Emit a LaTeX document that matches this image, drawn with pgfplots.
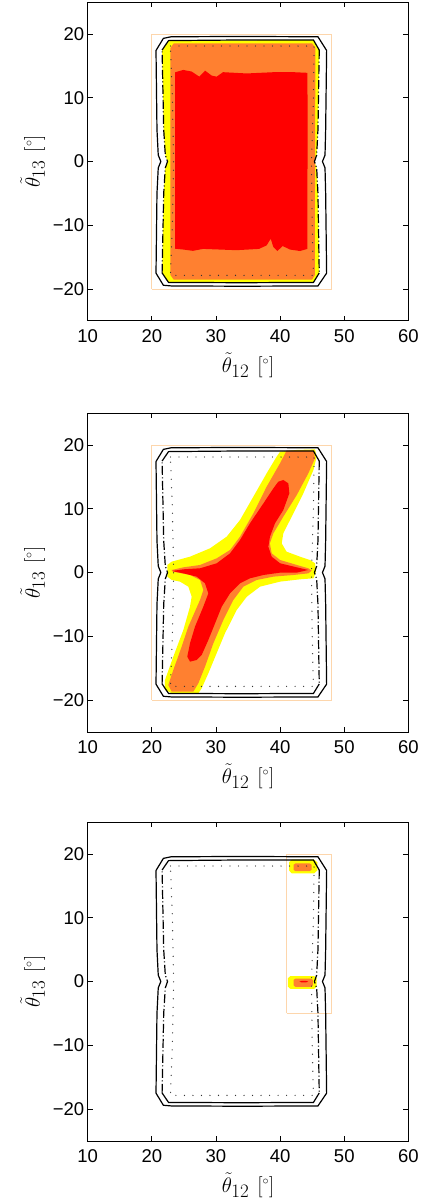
\RequirePackage{fix-cm}
\documentclass[border=0pt]{standalone}
\usepackage{fontspec}
\setmainfont{Liberation Sans}
\usepackage{pgfplots}
\pgfplotsset{compat=1.18}
\definecolor{cyel}{RGB}{255,255,0}
\definecolor{corg}{RGB}{255,128,48}
\definecolor{cred}{RGB}{255,0,0}
\definecolor{cpeach}{RGB}{253,214,172}
\newcommand{\thlab}[1]{$\tilde{\theta}_{\mbox{\fontsize{19}{19}\selectfont$#1$}}\hspace{8pt}[^{\mbox{\fontsize{12}{12}\selectfont$\circ$}}]$}
\pgfplotsset{
  panel/.style={
    anchor=north west, width=320.7pt, height=319pt, scale only axis,
    xmin=10, xmax=60, ymin=-25, ymax=25,
    xtick={10,20,30,40,50,60}, xticklabels={10,20,30,40,50,60},
    ytick={-20,-10,0,10,20}, yticklabels={−20,−10,0,10,20},
    tick align=inside, major tick length=5pt,
    every tick/.style={black, line width=0.8pt},
    axis line style={line width=1pt},
    tick label style={font=\fontsize{18.5}{19}\selectfont},
    xticklabel style={yshift=-4.8pt},
    xlabel={\thlab{12}},
    ylabel={\thlab{13}},
    label style={font=\fontsize{21}{24}\selectfont},
    xlabel style={at={(axis description cs:0.5,-0.16)}, anchor=base},
    ylabel style={at={(axis description cs:-0.1495,0.5)}, anchor=base},
    clip=true,
  },
  outerline/.style={black, line width=1.2pt},
  innerdd/.style={black, line width=1.2pt, dash pattern=on 9pt off 2.5pt on 1pt off 2.5pt},
  dotl/.style={black!80, line width=1.3pt, dash pattern=on 0.01pt off 8.5pt, line cap=round},
}
\newcommand{\contourlines}{%
  \addplot[outerline] coordinates {(20.65,17.4) (21.8,19.3) (23,19.55) (34,19.6) (45.9,19.55) (47.25,17.4) (47.1,5) (47.0,1.0) (46.6,0) (47.0,-1.0) (47.1,-5) (47.25,-17.5) (45.9,-19.5) (34,-19.55) (23,-19.5) (21.8,-19.4) (20.65,-17.5) (20.8,-5) (21.0,-1.0) (21.4,0) (21.0,1.0) (20.8,5) (20.65,17.4)};
  \addplot[outerline] coordinates {(21.6,17.47) (22.6,18.95) (34,19.05) (45.2,19.04) (46.1,17.47)};
  \addplot[innerdd] coordinates {(46.1,17.47) (45.9,5) (45.7,1) (45.35,0) (45.7,-1) (45.9,-5) (46.1,-17.47)};
  \addplot[outerline] coordinates {(46.1,-17.47) (45.2,-18.95) (34,-19.0) (22.6,-18.95) (21.6,-17.47)};
  \addplot[innerdd] coordinates {(21.6,-17.47) (21.85,-5) (22.1,-1) (22.45,0) (22.1,1) (21.85,5) (21.6,17.47)};
  \addplot[dotl] coordinates {(22.9,18.1) (34,18.1) (45.3,18.1) (45.2,10) (44.9,0) (45.0,-10) (45.2,-17.85) (34,-17.85) (22.9,-17.85) (23.2,-10) (23.4,0) (23.2,10) (22.9,18.1)};
}
\begin{document}
\begin{tikzpicture}
\useasboundingbox (0,0) rectangle (429pt,-1200pt);
% ---------------- Panel 1
\begin{axis}[panel, at={(87.7pt,-2pt)}]
\addplot[draw=cpeach, line width=0.8pt] coordinates {(20,-20) (48,-20) (48,20) (20,20) (20,-20)};
\addplot[fill=cyel, draw=none] coordinates {(21.6,17.47) (22.6,18.95) (45.2,19.04) (46.1,17.47) (45.9,5) (45.7,1) (45.35,0) (45.7,-1) (45.9,-5) (46.1,-17.47) (45.2,-18.95) (22.6,-18.95) (21.6,-17.47) (21.85,-5) (22.1,-1) (22.45,0) (22.1,1) (21.85,5)};
\addplot[fill=corg, draw=none] coordinates {(22.9,17.8) (23.4,18.5) (45,18.5) (45.5,17.8) (45.4,-17.8) (45,-18.5) (23.4,-18.5) (22.9,-17.8)};
\addplot[fill=cred, draw=none] coordinates {(23.62,13.98) (24.9,14.35) (26.2,14.1) (27.41,13.3) (28.3,14.24) (29.33,13.46) (30.1,13.3) (31.1,14.0) (34.8,13.8) (39,14.0) (42.1,14.0) (44.25,13.9) (44.3,5) (44.25,-5) (44.25,-13.7) (43.1,-14.03) (41.55,-13.8) (40.4,-13.25) (39.57,-14.03) (38.95,-13.4) (38.53,-12.1) (37.9,-13.15) (36.7,-13.7) (33.2,-13.9) (30.6,-13.8) (28.0,-13.7) (26.4,-14.0) (24.9,-13.8) (23.62,-13.67) (23.62,0)};
\contourlines
\end{axis}
% ---------------- Panel 2
\begin{axis}[panel, at={(87.7pt,-413pt)}]
\addplot[draw=cpeach, line width=0.8pt] coordinates {(20,-20) (48,-20) (48,20) (20,20) (20,-20)};
\addplot[fill=cyel, draw=none] coordinates {(40.0,18.94) (42.5,19.2) (45.44,19.3) (45.7,18.16) (45.2,16.07) (43.62,12.41) (41.8,8.75) (40.5,6.14) (40.25,4.57) (41.0,3.27) (43.1,2.48) (44.66,1.96) (45.44,1.44) (45.6,0.13) (45.2,-0.91) (43.1,-1.07) (40.0,-1.43) (36.87,-2.22) (34.8,-3.8) (33.23,-5.88) (31.4,-9.53) (30.1,-12.67) (28.81,-15.8) (27.77,-18.15) (27.25,-18.94) (23.35,-19.04) (22.05,-18.4) (22.05,-16.85) (23.35,-13.19) (24.91,-9.01) (25.95,-5.35) (26.21,-3.79) (25.69,-2.22) (24.39,-1.43) (23.09,-1.17) (22.42,-0.65) (22.42,1.18) (23.09,1.7) (25.95,2.48) (29.07,3.79) (31.67,5.62) (33.75,8.23) (35.83,11.89) (37.9,15.55) (39.46,18.16)};
\addplot[fill=corg, draw=none] coordinates {(41.0,19.1) (45.2,19.1) (45.44,17.9) (44.4,15.55) (42.6,12.15) (40.5,8.75) (38.95,6.14) (38.4,4.57) (38.69,3.0) (40.0,1.96) (42.6,1.18) (44.4,0.66) (44.92,0.29) (44.4,-0.13) (42.06,-0.39) (38.95,-0.65) (36.35,-1.17) (34.27,-2.22) (32.71,-4.31) (31.15,-7.44) (29.59,-11.1) (28.29,-14.76) (27.25,-17.37) (26.47,-18.68) (23.09,-18.68) (22.57,-17.63) (23.35,-15.28) (24.65,-11.62) (25.69,-8.49) (27.51,-4.31) (28.03,-2.74) (27.51,-1.17) (25.95,-0.39) (23.35,0.13) (23.09,0.39) (24.91,0.81) (27.51,1.18) (30.11,2.22) (32.19,3.53) (33.75,5.62) (35.83,9.28) (37.9,13.45) (39.98,17.11)};
\addplot[fill=cred, draw=none] coordinates {(40.5,14.5) (41.28,13.98) (41.44,12.41) (40.5,9.8) (39.2,7.71) (38.42,5.62) (38.17,4.05) (38.69,2.48) (40.0,1.44) (42.6,0.81) (44.4,0.4) (42.6,-0.02) (40.0,-0.02) (37.4,-0.39) (35.3,-0.91) (33.75,-1.7) (32.19,-3.27) (30.9,-5.35) (29.85,-7.97) (28.81,-10.58) (27.77,-12.93) (27.0,-13.71) (25.95,-13.97) (25.53,-13.19) (25.95,-11.1) (26.73,-8.49) (28.03,-5.35) (28.81,-3.27) (28.29,-1.7) (27.0,-0.65) (24.91,-0.13) (23.09,0.24) (24.91,0.5) (27.51,0.66) (30.11,1.44) (32.19,3.0) (33.75,5.1) (35.3,7.71) (37.4,10.84) (38.95,13.19) (39.72,14.24)};
\contourlines
\end{axis}
% ---------------- Panel 3
\begin{axis}[panel, at={(87.7pt,-822pt)}]
\addplot[draw=cpeach, line width=0.8pt] coordinates {(41,-5) (48,-5) (48,20) (41,20) (41,-5)};
\addplot[fill=cyel, draw=none] coordinates {(41.4,17.4) (41.8,16.95) (45.3,16.95) (45.8,17.4) (45.8,18.7) (45.3,19.1) (41.8,19.1) (41.4,18.7)};
\addplot[fill=corg, draw=none] coordinates {(42.1,17.5) (42.4,17.3) (44.6,17.3) (44.9,17.5) (44.9,18.3) (44.6,18.5) (42.4,18.5) (42.1,18.3)};
\addplot[fill=cyel, draw=none] coordinates {(41.2,-0.8) (41.6,-1.15) (45.3,-1.15) (45.7,-0.8) (45.7,0.5) (45.3,0.85) (41.6,0.85) (41.2,0.5)};
\addplot[fill=corg, draw=none] coordinates {(42.1,-0.6) (42.4,-0.85) (44.8,-0.85) (45.1,-0.6) (45.1,0.25) (44.8,0.45) (42.4,0.45) (42.1,0.25)};
\addplot[fill=cred, draw=none] coordinates {(43.0,-0.02) (43.3,-0.12) (44.1,-0.12) (44.4,-0.02) (44.1,0.08) (43.3,0.08)};
\contourlines
\end{axis}
\end{tikzpicture}
\end{document}
